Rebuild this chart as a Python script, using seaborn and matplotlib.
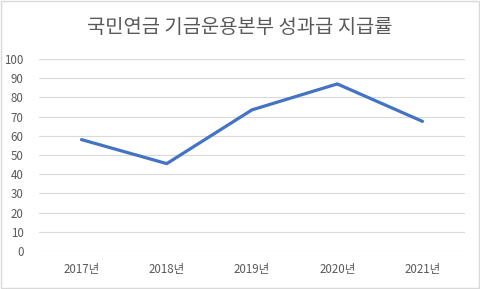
import matplotlib
matplotlib.use("Agg")
import matplotlib.pyplot as plt
import seaborn as sns
import pandas as pd
from matplotlib.patches import Rectangle

years = ["2017년", "2018년", "2019년", "2020년", "2021년"]
rates = [58, 45.5, 73.5, 87, 67.5]
title = "국민연금 기금운용본부 성과급 지급률"

sns.set_theme(style="white")
plt.rcParams['font.family'] = ['Noto Sans CJK KR', 'DejaVu Sans']

df = pd.DataFrame({"year": years, "rate": rates})

fig = plt.figure(figsize=(4.8, 2.89), dpi=100)
ax = fig.add_axes([0.081, 0.1315, 0.888, 0.6645])
sns.lineplot(data=df, x="year", y="rate", ax=ax, color="#4472C4", linewidth=2.3, sort=False)

ax.set_xlim(-0.5, 4.5)
ax.set_ylim(0, 100)
ax.set_yticks(range(0, 101, 10))
ax.yaxis.grid(True, color="#d9d9d9", linewidth=0.8)
ax.set_axisbelow(True)
for s in ax.spines.values():
    s.set_visible(False)
ax.set_xlabel("")
ax.set_ylabel("")
ax.tick_params(axis="both", length=0, labelsize=8.3, labelcolor="#595959")
ax.tick_params(axis="x", pad=9)
ax.tick_params(axis="y", pad=11)
for lab in ax.get_yticklabels():
    lab.set_horizontalalignment("right")

fig.text(0.5, 0.905, title, ha="center", va="center", fontsize=14.3, color="#595959")
fig.patches.append(Rectangle((0.002, 0.003), 0.995, 0.994, transform=fig.transFigure,
                             fill=False, edgecolor="#d9d9d9", linewidth=1.0))
fig.savefig("out.png", dpi=100)
